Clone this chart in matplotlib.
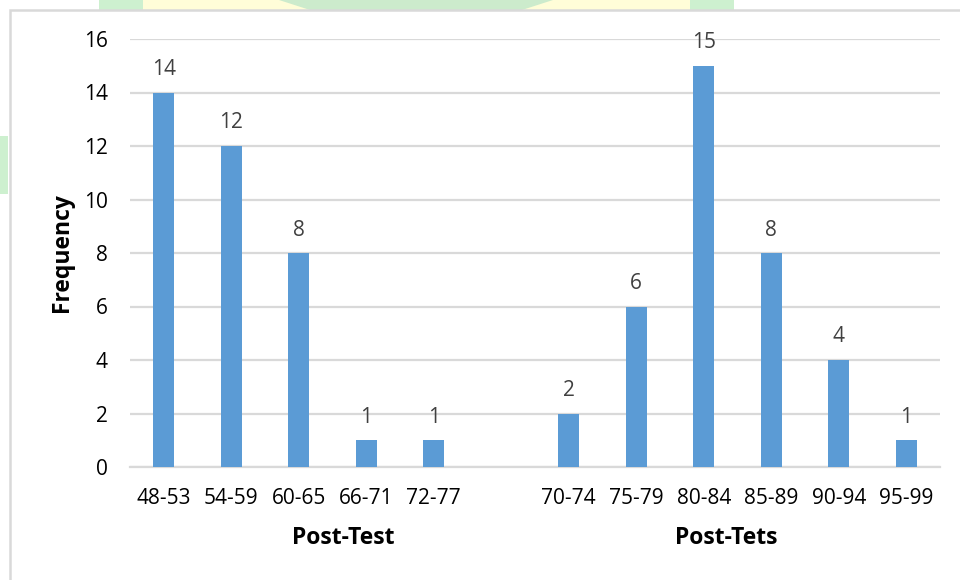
import matplotlib
matplotlib.use("Agg")
import matplotlib.pyplot as plt
from matplotlib.patches import Rectangle, Polygon
import numpy as np

# Score bands and how many students fall in each
pre_bands = ["48-53", "54-59", "60-65", "66-71", "72-77"]
pre_counts = [14, 12, 8, 1, 1]
post_bands = ["70-74", "75-79", "80-84", "85-89", "90-94", "95-99"]
post_counts = [2, 6, 15, 8, 4, 1]
group_titles = ["Post-Test", "Post-Tets"]
y_ticks = [0, 2, 4, 6, 8, 10, 12, 14, 16]

BAR = "#5b9bd5"
GRID = "#d9d9d9"
TXT = "#000000"
LBL = "#404040"

plt.rcParams["font.family"] = ["Open Sans", "DejaVu Sans"]

W, H = 960, 580
fig = plt.figure(figsize=(W / 100, H / 100), dpi=100)

# page background peeking out around the chart frame
def px_rect(x0, y0, x1, y1, color):
    fig.patches.append(Rectangle((x0 / W, 1 - y1 / H), (x1 - x0) / W, (y1 - y0) / H,
                                 transform=fig.transFigure, facecolor=color,
                                 edgecolor="none", zorder=0))

px_rect(99, 0, 143, 10, "#cdf0cf")
px_rect(143, 0, 690, 10, "#fffdd8")
px_rect(690, 0, 734, 10, "#cdf0cf")
px_rect(0, 136, 8, 194, "#cdf0cf")
pts = [(279, 0), (553, 0), (522, 10), (310, 10)]
fig.patches.append(Polygon([(x / W, 1 - y / H) for x, y in pts], closed=True,
                           transform=fig.transFigure, facecolor="#ccebcc",
                           edgecolor="none", zorder=0.5))

# chart frame
fig.patches.append(Rectangle((9.5 / W, -0.05), 1.1, 1 - 10 / H + 0.05,
                             transform=fig.transFigure, facecolor="white",
                             edgecolor=GRID, linewidth=1.8, zorder=1))

ax = fig.add_axes([130 / W, 1 - 467 / H, 810 / W, (467 - 39) / H])
ax.set_facecolor("none")
ax.set_zorder(2)

labels = pre_bands + [""] + post_bands
counts = pre_counts + [np.nan] + post_counts
x = np.arange(len(labels))

vals = np.nan_to_num(np.array(counts, dtype=float))
ax.bar(x, vals, width=0.31, color=BAR, zorder=3)
for xi, v in zip(x, counts):
    if not np.isnan(v):
        ax.annotate(f"{int(v)}", (xi, v), xytext=(0, 9), textcoords="offset points",
                    ha="center", va="bottom", fontsize=15, color=LBL)

ax.set_xlim(-0.5, len(labels) - 0.5)
ax.set_ylim(0, 16)
ax.set_yticks(y_ticks)
ax.set_xticks(x)
ax.set_xticklabels(labels)
ax.yaxis.grid(True, color=GRID, linewidth=1.6, zorder=0)
ax.set_axisbelow(True)
for s in ["top", "right", "left"]:
    ax.spines[s].set_visible(False)
ax.spines["bottom"].set_color(GRID)
ax.spines["bottom"].set_linewidth(1.6)
ax.tick_params(axis="both", length=0, labelsize=15, colors=TXT)
ax.tick_params(axis="y", pad=16)
ax.tick_params(axis="x", pad=15)

ax.set_ylabel("Frequency", fontsize=16.5, fontweight="bold", labelpad=7)

# group titles beneath the category labels
tr = ax.get_xaxis_transform()
for gx, title in zip([2.66, 8.34], group_titles):
    ax.text(gx, 1 - (538 - 39) / (467 - 39), title, transform=tr, ha="center",
            va="center", fontsize=16.5, fontweight="bold", color=TXT)

fig.savefig("out.png", dpi=100)
